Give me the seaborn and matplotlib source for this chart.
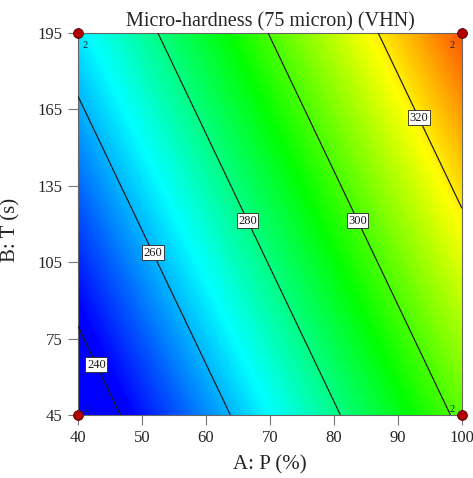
import numpy as np
import pandas as pd
import matplotlib
matplotlib.use("Agg")
import matplotlib.pyplot as plt
from matplotlib.colors import LinearSegmentedColormap, Normalize
import seaborn as sns

# factor ranges (design corners) and predicted micro-hardness at the corners
p_vals = [40, 100]          # A: P (%)
t_vals = [45, 195]          # B: T (s)
vhn_corners = [[232.3, 302.1],   # T = 45
               [265.5, 335.2]]   # T = 195

contour_levels = [240, 260, 280, 300, 320]
label_pos = [(43.1, 65), (52.0, 109), (66.7, 121.6), (83.9, 121.6), (93.4, 162)]

design_p = [40, 100, 40, 100]
design_t = [45, 45, 195, 195]
design_reps = [2, 2, 2, 2]

x_ticks = [40, 50, 60, 70, 80, 90, 100]
y_ticks = [45, 75, 105, 135, 165, 195]

sns.set_style("white")
plt.rcParams['font.family'] = ['Liberation Serif', 'DejaVu Serif']

de_cmap = LinearSegmentedColormap.from_list(
    "de", ["#0000ff", "#00ffff", "#00ff00", "#ffff00", "#ff0000"])
norm = Normalize(vmin=242, vmax=344)

fig = plt.figure(figsize=(4.73, 4.78), dpi=100)
ax = fig.add_axes([78 / 473, 63 / 478, 384 / 473, 382 / 478])

P, T = np.meshgrid(p_vals, t_vals)
Z = np.array(vhn_corners)

cf = ax.contourf(P, T, Z, levels=np.linspace(225, 345, 241), cmap=de_cmap, norm=norm,
                 antialiased=False)
cf.set_edgecolor('face')
cf.set_linewidth(0.4)
cs = ax.contour(P, T, Z, levels=contour_levels, colors='#1a1a1a', linewidths=0.85,
                zorder=5)
labels = ax.clabel(cs, fmt='%d', fontsize=9, inline=False, manual=label_pos)
for t in labels:
    t.set_rotation(0)
    t.set_zorder(6)
    t.set_bbox(dict(boxstyle='square,pad=0.12', fc='white', ec='#222222', lw=0.6))

pts = pd.DataFrame({'P': design_p, 'T': design_t, 'reps': design_reps})
sns.scatterplot(data=pts, x='P', y='T', ax=ax, s=50, color='#b00000',
                edgecolor='#500000', linewidth=0.6, zorder=10, clip_on=False,
                legend=False)
offsets = {(40, 45): (4, 2), (100, 45): (-9, 2), (40, 195): (3, -11), (100, 195): (-9, -11)}
for _, r in pts.iterrows():
    dx, dy = offsets[(r['P'], r['T'])]
    ax.annotate(str(r['reps']), (r['P'], r['T']), xytext=(dx, dy),
                textcoords='offset points', fontsize=7.5, color='#1a1a40', zorder=11)

ax.set_xlim(40, 100)
ax.set_ylim(45, 195)
ax.set_xticks(x_ticks)
ax.set_yticks(y_ticks)
ax.tick_params(axis='both', direction='out', length=7, width=0.8, color='#777777',
               labelsize=12, pad=4, bottom=True, left=True)
for sp in ax.spines.values():
    sp.set_color('#666666')
    sp.set_linewidth(0.8)

ax.set_title('Micro-hardness (75 micron) (VHN)', fontsize=14.5, pad=5)
ax.set_xlabel('A: P (%)', fontsize=15)
ax.set_ylabel('B: T (s)', fontsize=15)
ax.xaxis.set_label_coords(0.5, -0.105)
ax.yaxis.set_label_coords(-0.15, 0.484)

fig.savefig('out.png', dpi=100)
